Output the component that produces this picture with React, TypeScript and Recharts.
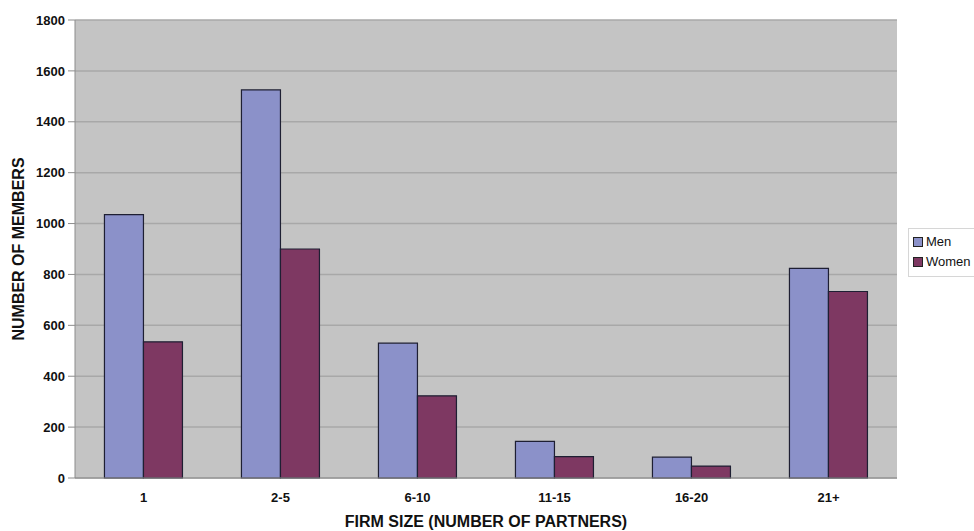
import { BarChart, Bar, XAxis, YAxis, CartesianGrid, Legend } from "recharts"

const firmSizes = ["1", "2-5", "6-10", "11-15", "16-20", "21+"]
const men = [1035, 1525, 530, 144, 82, 824]
const women = [535, 900, 323, 84, 47, 733]
const yTicks = [0, 200, 400, 600, 800, 1000, 1200, 1400, 1600, 1800]

const MEN_FILL = "#8b91c9"
const WOMEN_FILL = "#7e3862"
const FONT = "'Liberation Sans', Arial, sans-serif"

const data = firmSizes.map((size, i) => ({
  size,
  Men: men[i],
  Women: women[i],
}))

const YTitle = ({ viewBox }: any) => {
  const cy = viewBox.y + viewBox.height / 2
  return (
    <text
      x={0}
      y={0}
      transform={`translate(24, ${cy}) rotate(-90)`}
      textAnchor="middle"
      fontSize={16}
      fontWeight="bold"
      fontFamily={FONT}
      fill="#111"
    >
      NUMBER OF MEMBERS
    </text>
  )
}

const XTitle = ({ viewBox }: any) => (
  <text
    x={viewBox.x + viewBox.width / 2}
    y={527}
    textAnchor="middle"
    fontSize={16}
    fontWeight="bold"
    fontFamily={FONT}
    fill="#111"
  >
    FIRM SIZE (NUMBER OF PARTNERS)
  </text>
)

// legend sits in the right margin; its wrapper is zero-sized so the plot keeps its box
const LegendBox = ({ payload }: any) => (
  <div
    style={{
      width: "max-content",
      border: "1px solid #d6d6d6",
      background: "#fff",
      padding: "3px 6px 4px 4px",
      fontFamily: FONT,
      fontSize: 13,
      color: "#111",
      lineHeight: "20px",
    }}
  >
    {payload.map((p: any) => (
      <div key={p.value} style={{ display: "flex", alignItems: "center" }}>
        <span
          style={{
            display: "inline-block",
            width: 8,
            height: 8,
            background: p.color,
            border: "1px solid #222",
            marginRight: 3,
          }}
        />
        {p.value}
      </div>
    ))}
  </div>
)

export default function App() {
  return (
    <div style={{ width: 974, height: 531, background: "#fff", overflow: "hidden" }}>
      <style>{"body{margin:0}"}</style>
      <BarChart
        width={974}
        height={531}
        data={data}
        margin={{ top: 20, right: 77, bottom: 23, left: 0 }}
        barCategoryGap="21.5%"
        barGap={0}
      >
        <CartesianGrid
          vertical={false}
          fill="#c4c4c4"
          fillOpacity={1}
          stroke="#a8a8a8"
          strokeWidth={1.5}
        />
        <XAxis
          dataKey="size"
          height={30}
          tickLine={false}
          tickSize={8}
          tickMargin={7}
          axisLine={{ stroke: "#8c8c8c" }}
          tick={{ fontSize: 13, fontWeight: "bold", fontFamily: FONT, fill: "#111" }}
          label={<XTitle />}
        />
        <YAxis
          width={75}
          domain={[0, 1800]}
          ticks={yTicks}
          interval={0}
          tickSize={7}
          tickMargin={3}
          axisLine={{ stroke: "#8c8c8c" }}
          tickLine={{ stroke: "#8c8c8c" }}
          tick={{ fontSize: 13, fontWeight: "bold", fontFamily: FONT, fill: "#111" }}
          label={<YTitle />}
        />
        <YAxis
          yAxisId="edge"
          orientation="right"
          width={0}
          tick={false}
          tickLine={false}
          axisLine={{ stroke: "#9a9a9a" }}
        />
        <Legend
          layout="vertical"
          align="right"
          verticalAlign="middle"
          content={<LegendBox />}
          wrapperStyle={{ left: 908, top: 228, width: 0, height: 0, overflow: "visible" }}
        />
        <Bar
          dataKey="Men"
          fill={MEN_FILL}
          stroke="#1e1f33"
          strokeWidth={1.2}
          isAnimationActive={false}
        />
        <Bar
          dataKey="Women"
          fill={WOMEN_FILL}
          stroke="#1e1f33"
          strokeWidth={1.2}
          isAnimationActive={false}
        />
      </BarChart>
    </div>
  )
}
